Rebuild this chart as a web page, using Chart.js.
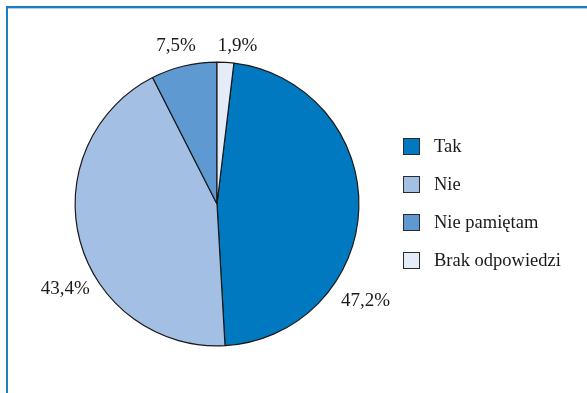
<!DOCTYPE html>
<html>
<head>
<meta charset="utf-8">
<script src="https://cdn.jsdelivr.net/npm/chart.js@4/dist/chart.umd.min.js"></script>
<style>
  html, body { margin: 0; padding: 0; background: #ffffff; }
  #wrap { position: relative; width: 587px; height: 393px; }
</style>
</head>
<body>
<div id="wrap"><canvas id="c" width="587" height="393"></canvas></div>
<script>
// ---- data ----
const categories = ['Tak', 'Nie', 'Nie pamiętam', 'Brak odpowiedzi'];
const shares = [47.2, 43.4, 7.5, 1.9];
const valueLabels = ['47,2%', '43,4%', '7,5%', '1,9%'];
const sliceColors = ['#0079c1', '#a3bfe3', '#5f99d1', '#e4ecf8'];

// label placement relative to pie centre, in units of outer radius
const labelPlacement = [
  [1.046, 0.683],
  [-1.070, 0.599],
  [-0.289, -1.113],
  [0.144, -1.113]
];

const framePlugin = {
  id: 'frame',
  beforeDraw(chart) {
    const ctx = chart.ctx;
    ctx.save();
    ctx.fillStyle = '#ffffff';
    ctx.fillRect(0, 0, chart.width, chart.height);
    ctx.fillStyle = '#1b7dc2';
    ctx.fillRect(6, 6, chart.width - 6, 2);
    ctx.fillRect(6, 6, 2, chart.height - 6);
    ctx.fillStyle = '#a9cde8';
    ctx.fillRect(8, 8, chart.width - 8, 1);
    ctx.restore();
  }
};

const sliceLabelPlugin = {
  id: 'sliceLabels',
  afterDatasetsDraw(chart) {
    const ctx = chart.ctx;
    const meta = chart.getDatasetMeta(0);
    ctx.save();
    ctx.font = '19px "Liberation Serif", "Times New Roman", serif';
    ctx.fillStyle = '#1a1a1a';
    ctx.textAlign = 'center';
    ctx.textBaseline = 'middle';
    meta.data.forEach((arc, i) => {
      const p = arc.getProps(['x', 'y', 'outerRadius'], true);
      const [fx, fy] = labelPlacement[i];
      ctx.fillText(valueLabels[i], p.x + fx * p.outerRadius, p.y + fy * p.outerRadius);
    });
    ctx.restore();
  }
};

const legendPlugin = {
  id: 'customLegend',
  afterDraw(chart) {
    const ctx = chart.ctx;
    const ds = chart.data.datasets[0];
    const x0 = 403, y0 = 138, step = 38, box = 17;
    ctx.save();
    ctx.font = '18.5px "Liberation Serif", "Times New Roman", serif';
    ctx.textAlign = 'left';
    ctx.textBaseline = 'middle';
    chart.data.labels.forEach((lab, i) => {
      const y = y0 + i * step;
      ctx.fillStyle = ds.backgroundColor[i];
      ctx.fillRect(x0, y, box, box);
      ctx.strokeStyle = '#2b2b2b';
      ctx.lineWidth = 1;
      ctx.strokeRect(x0 + 0.5, y + 0.5, box - 1, box - 1);
      ctx.fillStyle = '#1a1a1a';
      ctx.fillText(lab, 434, y + box / 2 + 0.5);
    });
    ctx.restore();
  }
};

new Chart(document.getElementById('c'), {
  type: 'pie',
  data: {
    labels: categories,
    datasets: [{
      data: shares,
      backgroundColor: sliceColors,
      borderColor: '#1a1a1a',
      borderWidth: 1.2
    }]
  },
  options: {
    responsive: false,
    animation: false,
    rotation: 1.9 * 3.6,
    layout: { padding: { left: 74.5, right: 227.5, top: 61.5, bottom: 46.5 } },
    plugins: {
      legend: { display: false },
      tooltip: { enabled: false }
    }
  },
  plugins: [framePlugin, sliceLabelPlugin, legendPlugin]
});
</script>
</body>
</html>
